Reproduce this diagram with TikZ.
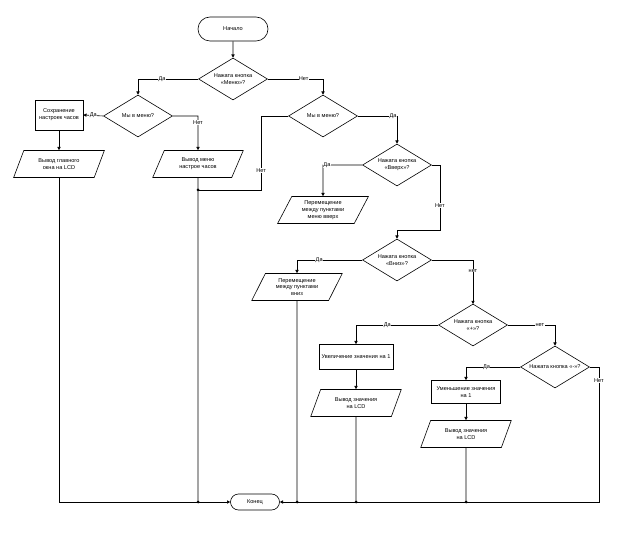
\documentclass[tikz,border=0pt]{standalone}
\usepackage{fontspec}
\setmainfont{Liberation Sans}
\usepackage{tikz}
\usetikzlibrary{
    arrows.meta,
    calc,
    shapes.geometric,
    shapes.misc
}

\begin{document}
\begin{tikzpicture}[x=1pt,y=-1pt,
    every node/.style={font=\fontsize{5.6}{6.8}\selectfont, align=center},
    terminal/.style={draw, rounded rectangle, line width=0.6pt, inner sep=1pt},
    decision/.style={draw, diamond, shape aspect=1.64, inner sep=0pt, minimum width=69, minimum height=42, line width=0.6pt},
    process/.style={draw, rectangle, inner sep=1pt, line width=0.6pt},
    io/.style={draw, trapezium, trapezium left angle=64, trapezium right angle=116, trapezium stretches=true, minimum width=91, minimum height=27, inner sep=1pt, line width=0.6pt},
    lbl/.style={fill=white, inner sep=0.4pt},
    arr/.style={-{Triangle[length=3.2pt,width=3.2pt]}, line width=0.6pt},
    ln/.style={line width=0.6pt},
    dot/.style={circle, fill, inner sep=0pt, minimum size=3pt}
]
\useasboundingbox (0,0) rectangle (643,545);

% Start
\node[terminal, minimum width=72, minimum height=24] (start) at (233,29) {Начало};
\node[decision] (menuq) at (233,79) {Нажата кнопка\\«Меню»?};
\draw[arr] (start) -- (menuq);

% Left branch
\node[decision] (inmenuA) at (138,116) {Мы в меню?};
\node[process, minimum width=48, minimum height=30] (save) at (59,115) {Сохранение\\настроек часов};
\node[io] (outmain) at (59,164) {Вывод главного\\окна на LCD};
\node[io] (outmenu) at (198,164) {Вывод меню\\настрое часов};
\draw[arr] (menuq.west) -- node[lbl, pos=0.6] {Да} (menuq.west -| inmenuA) -- (inmenuA.north);
\draw[arr] (inmenuA.west) -- node[lbl] {Да} (save.east);
\draw[arr] (inmenuA.east) -- (inmenuA.east -| outmenu) -- node[lbl, pos=0.18] {Нет} (outmenu.north);
\draw[arr] (save) -- (outmain);

% Right branch
\node[decision] (inmenuB) at (323,116) {Мы в меню?};
\node[decision] (upq) at (397,165) {Нажата кнопка\\«Вверх»?};
\node[io] (moveup) at (323,210) {Перемещение\\между пунктами\\меню вверх};
\node[decision] (downq) at (397,260) {Нажата кнопка\\«Вниз»?};
\node[io] (movedown) at (297,287) {Перемещение\\между пунктами\\вниз};
\coordinate (jA) at (198,190);
\coordinate (jB) at (397,230);
\draw[arr] (menuq.east) -- node[lbl, pos=0.65] {Нет} (menuq.east -| inmenuB) -- (inmenuB.north);
\draw[ln] (inmenuB.west) -- ++(-27,0) |- node[lbl, pos=0.37] {Нет} (jA);
\draw[arr] (inmenuB.east) -- node[lbl, pos=0.9] {Да} (inmenuB.east -| upq) -- (upq.north);
\draw[arr] (upq.west) -- node[lbl, pos=0.9] {Да} (upq.west -| moveup) -- (moveup.north);
\draw[arr] (upq.east) -- ++(8,0) |- node[lbl, pos=0.31] {Нет} (jB) -- (downq.north);
\draw[arr] (downq.west) -| node[lbl, pos=0.33] {Да} (movedown.north);
\draw[arr] (downq.east) -| node[lbl, pos=0.62] {нет} (473,304);

% Plus / minus
\node[decision] (plusq) at (473,325) {Нажата кнопка\\«+»?};
\node[process, minimum width=74, minimum height=25] (inc) at (356,357) {Увеличение значения на 1};
\node[io] (outinc) at (356,403) {Вывод значения\\на LCD};
\node[decision] (minusq) at (555,367) {Нажата кнопка «-»?};
\node[process, minimum width=69, minimum height=23] (dec) at (466,392) {Уменьшение значения\\на 1};
\node[io] (outdec) at (466,434) {Вывод значения\\на LCD};
\draw[arr] (plusq.west) -| node[lbl, pos=0.31] {Да} (inc.north);
\draw[arr] (plusq.east) -| node[lbl, pos=0.34] {нет} (minusq.north);
\draw[arr] (inc) -- (outinc);
\draw[arr] (minusq.west) -| node[lbl, pos=0.31] {Да} (dec.north);
\draw[arr] (dec) -- (outdec);

% End
\node[terminal, minimum width=51, minimum height=16] (stop) at (255,502) {Конец};
\coordinate (dA) at (198,502);
\coordinate (dB) at (297,502);
\coordinate (dC) at (356,502);
\coordinate (dD) at (466,502);
\draw[arr] (outmain.south) |- (stop.west);
\draw[ln] (outmenu.south) -- (dA);
\draw[ln] (movedown.south) -- (dB);
\draw[ln] (outinc.south) -- (dC);
\draw[ln] (outdec.south) -- (dD);
\draw[arr] (minusq.east) -- ++(9,0) |- node[lbl, pos=0.05] {Нет} (stop.east);
\foreach \d in {jA,dA,dB,dC,dD}
    \node[dot] at (\d) {};

\end{tikzpicture}
\end{document}
